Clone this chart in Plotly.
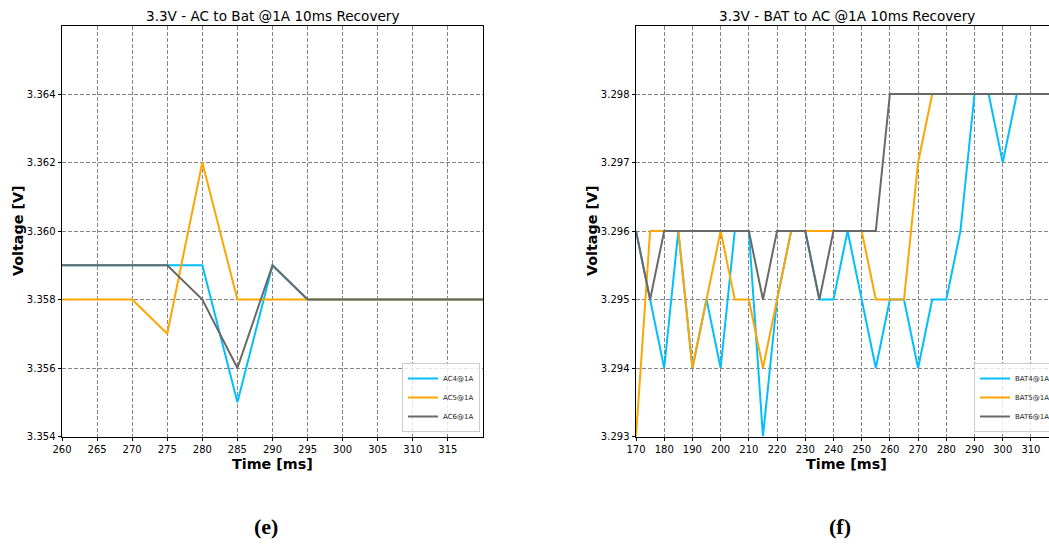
import plotly.graph_objects as go

W, H = 1049, 545

# ---------------- data ----------------
time_e = [260, 265, 270, 275, 280, 285, 290, 295, 300, 305, 310, 315, 320]
ac4 = [3.359, 3.359, 3.359, 3.359, 3.359, 3.355, 3.359, 3.358, 3.358, 3.358, 3.358, 3.358, 3.358]
ac5 = [3.358, 3.358, 3.358, 3.357, 3.362, 3.358, 3.358, 3.358, 3.358, 3.358, 3.358, 3.358, 3.358]
ac6 = [3.359, 3.359, 3.359, 3.359, 3.358, 3.356, 3.359, 3.358, 3.358, 3.358, 3.358, 3.358, 3.358]

time_f = [170, 175, 180, 185, 190, 195, 200, 205, 210, 215, 220, 225, 230, 235, 240, 245,
          250, 255, 260, 265, 270, 275, 280, 285, 290, 295, 300, 305, 310, 315, 320]
bat4 = [3.296, 3.295, 3.294, 3.296, 3.294, 3.295, 3.294, 3.296, 3.296, 3.293, 3.295, 3.296,
        3.296, 3.295, 3.295, 3.296, 3.295, 3.294, 3.295, 3.295, 3.294, 3.295, 3.295, 3.296,
        3.298, 3.298, 3.297, 3.298, 3.298, 3.298, 3.298]
bat5 = [3.293, 3.296, 3.296, 3.296, 3.294, 3.295, 3.296, 3.295, 3.295, 3.294, 3.295, 3.296,
        3.296, 3.296, 3.296, 3.296, 3.296, 3.295, 3.295, 3.295, 3.297, 3.298, 3.298, 3.298,
        3.298, 3.298, 3.298, 3.298, 3.298, 3.298, 3.298]
bat6 = [3.296, 3.295, 3.296, 3.296, 3.296, 3.296, 3.296, 3.296, 3.296, 3.295, 3.296, 3.296,
        3.296, 3.295, 3.296, 3.296, 3.296, 3.296, 3.298, 3.298, 3.298, 3.298, 3.298, 3.298,
        3.298, 3.298, 3.298, 3.298, 3.298, 3.298, 3.298]

names_e = ["AC4@1A", "AC5@1A", "AC6@1A"]
names_f = ["BAT4@1A", "BAT5@1A", "BAT6@1A"]
colors = ["#00BFFF", "#FFA500", "#696969"]

title_e = "3.3V - AC to Bat @1A 10ms Recovery"
title_f = "3.3V - BAT to AC @1A 10ms Recovery"
xlabel = "Time [ms]"
ylabel = "Voltage [V]"
ticks_e_x = list(range(260, 320, 5))
ticks_e_y = [3.354, 3.356, 3.358, 3.360, 3.362, 3.364]
ticks_f_x = list(range(170, 320, 10))
ticks_f_y = [3.293, 3.294, 3.295, 3.296, 3.297, 3.298]

# ---------------- layout geometry (pixels) ----------------
def px(x):
    return x / W

def py(y):
    return 1 - y / H

L1, R1 = 62, 483
L2 = 636
TOP, BOT = 25.5, 436.5

fig = go.Figure()
for ys, n, c in zip([ac4, ac5, ac6], names_e, colors):
    fig.add_trace(go.Scatter(x=time_e, y=ys, mode="lines", name=n,
                             line=dict(color=c, width=2), xaxis="x", yaxis="y",
                             legend="legend"))
for ys, n, c in zip([bat4, bat5, bat6], names_f, colors):
    fig.add_trace(go.Scatter(x=time_f, y=ys, mode="lines", name=n,
                             line=dict(color=c, width=2), xaxis="x2", yaxis="y2",
                             legend="legend2"))

grid = dict(showgrid=True, gridcolor="#858585", griddash="4px,2px", gridwidth=1,
            ticks="outside", ticklen=3.5, tickcolor="black", tickwidth=1,
            showline=True, linecolor="black", linewidth=1, zeroline=False,
            tickfont=dict(family="DejaVu Sans", size=10, color="black"))

f2_px = 2.821  # pixels per ms on right panel
fig.update_layout(
    width=W, height=H,
    margin=dict(l=0, r=0, t=0, b=0, autoexpand=False),
    paper_bgcolor="white", plot_bgcolor="white",
    xaxis=dict(domain=[px(L1), px(R1)], range=[260, 320], tickvals=ticks_e_x,
               mirror=True, anchor="y", **grid),
    yaxis=dict(domain=[py(BOT), py(TOP)], range=[3.354, 3.366], tickvals=ticks_e_y,
               tickformat=".3f", mirror=True, anchor="x", **grid),
    xaxis2=dict(domain=[px(L2), 1.0], range=[170, 170 + (W - L2) / f2_px],
                tickvals=ticks_f_x, mirror=True, anchor="y2", **grid),
    yaxis2=dict(domain=[py(BOT), py(TOP)], range=[3.293, 3.299], tickvals=ticks_f_y,
                tickformat=".3f", anchor="x2", **grid),
    legend=dict(x=px(480), y=py(432), xanchor="right", yanchor="bottom",
                bgcolor="rgba(255,255,255,0.8)", bordercolor="#cccccc", borderwidth=1,
                font=dict(family="DejaVu Sans", size=7, color="#222"),
                itemwidth=30, tracegroupgap=0),
    legend2=dict(x=px(974), y=py(432), xanchor="left", yanchor="bottom",
                 bgcolor="rgba(255,255,255,0.8)", bordercolor="#cccccc", borderwidth=1,
                 font=dict(family="DejaVu Sans", size=7, color="#222"),
                 itemwidth=30, tracegroupgap=0),
    showlegend=True,
)

ann = []
c1 = (L1 + R1) / 2
c2 = L2 + (R1 - L1) / 2
for cx, t in [(c1, title_e), (c2, title_f)]:
    ann.append(dict(x=px(cx), y=py(16), xref="paper", yref="paper", text=t,
                    showarrow=False, xanchor="center", yanchor="middle",
                    font=dict(family="DejaVu Sans", size=13.6, color="black")))
    ann.append(dict(x=px(cx), y=py(464), xref="paper", yref="paper",
                    text="<b>" + xlabel + "</b>", showarrow=False,
                    xanchor="center", yanchor="middle",
                    font=dict(family="DejaVu Sans", size=14.3, color="black")))
for lx in [18, 592]:
    ann.append(dict(x=px(lx), y=py((TOP + BOT) / 2), xref="paper", yref="paper",
                    text="<b>" + ylabel + "</b>", showarrow=False, textangle=-90,
                    xanchor="center", yanchor="middle",
                    font=dict(family="DejaVu Sans", size=14.3, color="black")))
for cx, t in [(266, "(e)"), (840, "(f)")]:
    ann.append(dict(x=px(cx), y=py(526), xref="paper", yref="paper",
                    text="<b>" + t + "</b>", showarrow=False,
                    xanchor="center", yanchor="middle",
                    font=dict(family="Liberation Serif", size=22, color="black")))
fig.update_layout(annotations=ann)

fig.write_html("out.html")
